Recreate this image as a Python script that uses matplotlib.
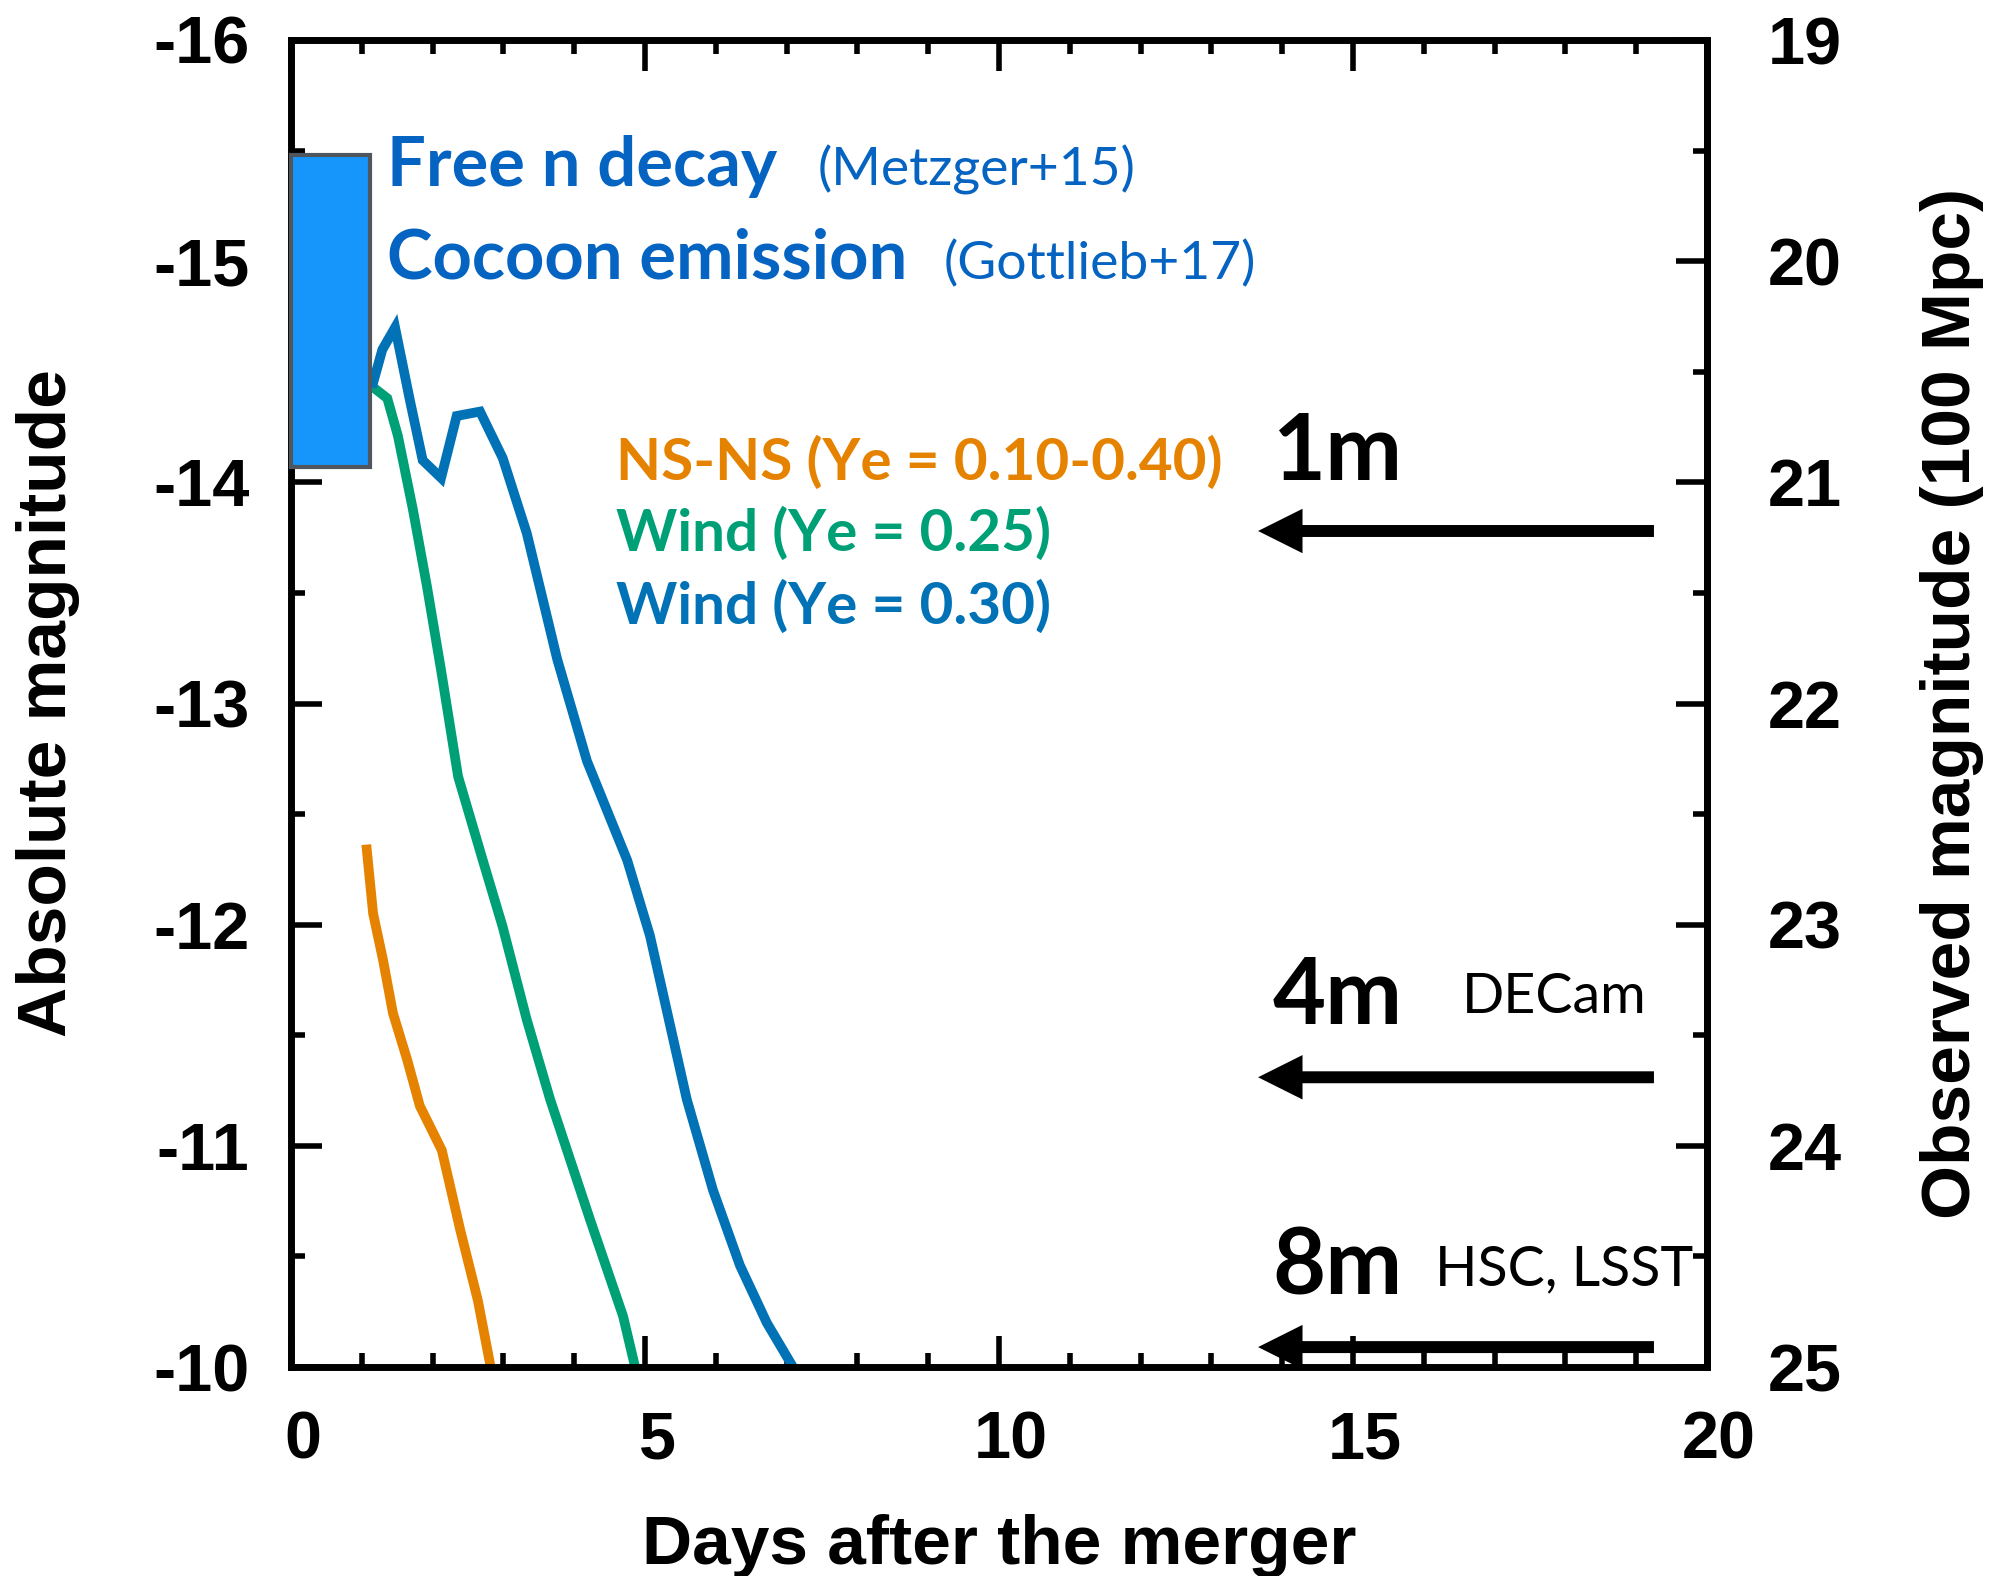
import matplotlib
matplotlib.use("Agg")
import matplotlib.pyplot as plt
from matplotlib.patches import Rectangle, FancyArrowPatch, ArrowStyle
from matplotlib.ticker import MultipleLocator
from matplotlib.transforms import ScaledTranslation

# ---------------- data ----------------
nsns_days = [1.07, 1.16, 1.30, 1.44, 1.64, 1.82, 1.96, 2.13, 2.39, 2.64, 2.82]
nsns_mag = [-12.34, -12.05, -11.84, -11.60, -11.39, -11.18, -11.09, -10.98, -10.62, -10.30, -10.00]

wind25_days = [1.16, 1.36, 1.51, 1.72, 1.92, 2.12, 2.36, 2.71, 2.99, 3.33, 3.66, 4.22, 4.69, 4.86]
wind25_mag = [-14.43, -14.38, -14.21, -13.88, -13.53, -13.15, -12.67, -12.29, -11.99, -11.57, -11.21, -10.67, -10.23, -10.00]

wind30_days = [1.16, 1.29, 1.47, 1.68, 1.86, 2.12, 2.34, 2.67, 2.99, 3.33, 3.76, 4.18, 4.75, 5.07, 5.59, 5.96, 6.34, 6.72, 7.09]
wind30_mag = [-14.45, -14.60, -14.70, -14.37, -14.10, -14.02, -14.30, -14.32, -14.11, -13.77, -13.20, -12.74, -12.29, -11.95, -11.21, -10.80, -10.46, -10.20, -10.00]

# early-emission box (days, absolute magnitude)
box_days = [0.0, 1.12]
box_mag = [-15.48, -14.07]

# telescope limits (observed magnitude at 100 Mpc)
tel_names = ["1m", "4m", "8m"]
tel_instr = ["", "DECam", "HSC, LSST"]
tel_limit = [21.22, 23.69, 24.91]
arrow_days = [19.29, 13.62]

dist_mod = 35.0  # 100 Mpc

x_ticks = [0, 5, 10, 15, 20]
y_ticks = [-16, -15, -14, -13, -12, -11, -10]
y2_ticks = [19, 20, 21, 22, 23, 24, 25]

# ---------------- style ----------------
C_ORANGE = "#E58200"
C_GREEN = "#00A077"
C_BLUE = "#0072B5"
C_TXTBLUE = "#0563C1"
C_BOXFILL = "#1696FB"
C_BOXEDGE = "#50565E"

AX_FONT = "Liberation Sans"
TXT_FONT = "Lato"

fig = plt.figure(figsize=(20.01, 15.76), dpi=100)
ax = fig.add_axes([291 / 2001, 1 - 1367 / 1576, (1707 - 291) / 2001, (1367 - 40) / 1576])

lw = 7
ax.plot(nsns_days, nsns_mag, color=C_ORANGE, lw=lw, solid_joinstyle="miter", zorder=2)
ax.plot(wind25_days, wind25_mag, color=C_GREEN, lw=lw, solid_joinstyle="miter", zorder=2)
ax.plot(wind30_days, wind30_mag, color=C_BLUE, lw=lw, solid_joinstyle="miter", zorder=2)

box = Rectangle((box_days[0], box_mag[0]), box_days[1] - box_days[0], box_mag[1] - box_mag[0],
                facecolor=C_BOXFILL, edgecolor=C_BOXEDGE, lw=3, zorder=3, clip_on=False)
ax.add_patch(box)

ax.set_xlim(0, 20)
ax.set_ylim(-10, -16)

for s in ax.spines.values():
    s.set_linewidth(5)

ax.xaxis.set_minor_locator(MultipleLocator(1))
ax.yaxis.set_minor_locator(MultipleLocator(0.5))
ax.set_xticks(x_ticks)
ax.set_yticks(y_ticks)
ax.set_xticklabels([str(v) for v in x_ticks])
ax.set_yticklabels([str(v) for v in y_ticks])

ax.tick_params(which="both", direction="in", top=True, right=False, width=4)
ax.tick_params(which="major", length=22)
ax.tick_params(which="minor", length=10)
ax.tick_params(axis="x", which="major", pad=31, labelsize=48)
ax.tick_params(axis="y", which="major", pad=30, labelsize=48)
shift = ScaledTranslation(12 / 100, 0, fig.dpi_scale_trans)
for lab in ax.get_xticklabels():
    lab.set_fontfamily(AX_FONT)
    lab.set_fontweight("bold")
    lab.set_transform(lab.get_transform() + shift)
for lab in ax.get_yticklabels():
    lab.set_fontfamily(AX_FONT)
    lab.set_fontweight("bold")

# right axis: observed magnitude at 100 Mpc
ax2 = ax.twinx()
ax2.set_ylim(ax.get_ylim()[0] + dist_mod, ax.get_ylim()[1] + dist_mod)
for side in ["left", "top", "bottom"]:
    ax2.spines[side].set_visible(False)
ax2.spines["right"].set_linewidth(5)
ax2.yaxis.set_minor_locator(MultipleLocator(0.5))
ax2.set_yticks(y2_ticks)
ax2.set_yticklabels([str(v) for v in y2_ticks])
ax2.tick_params(which="both", direction="in", width=4)
ax2.tick_params(which="major", length=22, pad=44, labelsize=48)
ax2.tick_params(which="minor", length=10)
for lab in ax2.get_yticklabels():
    lab.set_fontfamily(AX_FONT)
    lab.set_fontweight("bold")

lab_kw = dict(fontsize=50, fontweight="bold", fontfamily=AX_FONT)
ax.set_xlabel("Days after the merger", **lab_kw)
ax.set_ylabel("Absolute magnitude", **lab_kw)
ax2.set_ylabel("Observed magnitude (100 Mpc)", **lab_kw)
ax.xaxis.label.set_va("center")
ax.yaxis.label.set_va("center")
ax2.yaxis.label.set_va("center")
ax.xaxis.set_label_coords(0.5, -0.135)
ax.yaxis.set_label_coords(-0.1716, 0.5)
ax2.yaxis.set_label_coords(1.173, 0.5)

# ---------------- annotations ----------------
ax.text(1.36, -15.34, "Free n decay", color=C_TXTBLUE, fontsize=49.5, fontweight="bold",
        fontfamily=TXT_FONT, va="baseline", ha="left")
ax.text(7.44, -15.34, "(Metzger+15)", color=C_TXTBLUE, fontsize=38.5,
        fontfamily=TXT_FONT, va="baseline", ha="left")
ax.text(1.36, -14.92, "Cocoon emission", color=C_TXTBLUE, fontsize=49.5, fontweight="bold",
        fontfamily=TXT_FONT, va="baseline", ha="left")
ax.text(9.22, -14.92, "(Gottlieb+17)", color=C_TXTBLUE, fontsize=38.5,
        fontfamily=TXT_FONT, va="baseline", ha="left")

ax.text(4.59, -14.01, "NS-NS (Ye = 0.10-0.40)", color=C_ORANGE, fontsize=42, fontweight="bold",
        fontfamily=TXT_FONT, va="baseline", ha="left")
ax.text(4.59, -13.69, "Wind (Ye = 0.25)", color=C_GREEN, fontsize=42, fontweight="bold",
        fontfamily=TXT_FONT, va="baseline", ha="left")
ax.text(4.59, -13.36, "Wind (Ye = 0.30)", color=C_BLUE, fontsize=42, fontweight="bold",
        fontfamily=TXT_FONT, va="baseline", ha="left")

name_base = [-14.01, -11.55, -10.33]
instr_x = [16.54, 16.54, 16.16]
instr_base = [-11.60, -11.60, -10.37]
for name, instr, lim, nb, ix, ib in zip(tel_names, tel_instr, tel_limit, name_base, instr_x, instr_base):
    ax.text(13.86, nb, name, color="black", fontsize=66, fontweight="bold",
            fontfamily=TXT_FONT, va="baseline", ha="left")
    if instr:
        ax.text(ix, ib, instr, color="black", fontsize=40, fontfamily=TXT_FONT,
                va="baseline", ha="left")
    y = lim - dist_mod
    arr = FancyArrowPatch((arrow_days[0], y), (arrow_days[1], y),
                          arrowstyle=ArrowStyle.Simple(head_length=32, head_width=32, tail_width=8.6),
                          mutation_scale=1, color="black", lw=0, zorder=4)
    ax.add_patch(arr)

fig.savefig("out.png", dpi=100)
